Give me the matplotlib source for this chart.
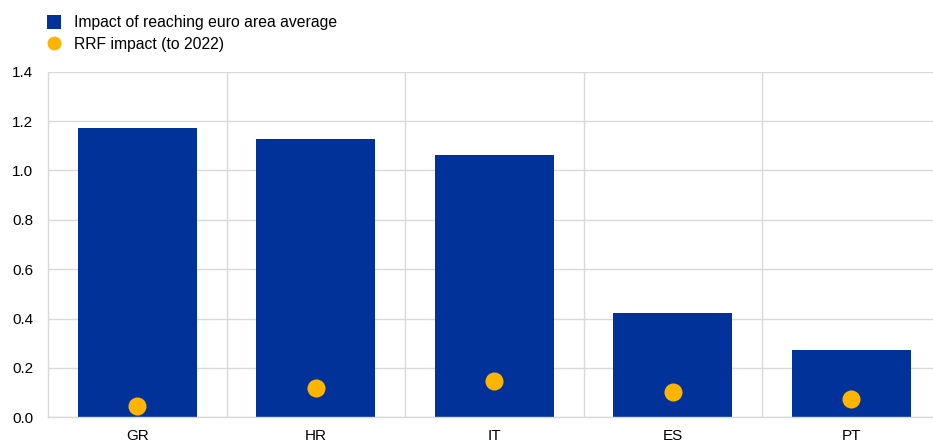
import matplotlib
matplotlib.use("Agg")
import matplotlib.pyplot as plt
from matplotlib.lines import Line2D
import numpy as np

plt.rcParams['font.family'] = ['Liberation Sans', 'DejaVu Sans']

countries = ["GR", "HR", "IT", "ES", "PT"]
euro_area_gap = [1.172, 1.127, 1.061, 0.421, 0.271]
rrf_impact = [0.047, 0.117, 0.146, 0.101, 0.073]
y_ticks = [0.0, 0.2, 0.4, 0.6, 0.8, 1.0, 1.2, 1.4]

BLUE = "#003299"
YELLOW = "#FFB400"
GRID = "#d9d9d9"

fig = plt.figure(figsize=(9.33, 4.43), dpi=100)
ax = fig.add_axes([48 / 933, 25.7 / 443, 892.5 / 933, 345.6 / 443])

x = np.arange(len(countries))
ax.bar(x, euro_area_gap, width=0.667, color=BLUE, zorder=2)
ax.plot(x, rrf_impact, linestyle="none", marker="o", markersize=13,
        color=YELLOW, markeredgewidth=0, zorder=3)

ax.set_xlim(-0.5, len(countries) - 0.5)
ax.set_ylim(0, 1.4)
ax.set_yticks(y_ticks)
ax.set_yticklabels([f"{v:.1f}" for v in y_ticks])
ax.set_xticks(x)
ax.set_xticklabels(countries)
ax.set_xticks(np.arange(len(countries)) + 0.5, minor=True)

ax.set_axisbelow(True)
ax.grid(axis="y", which="major", color=GRID, linewidth=1.0)
ax.grid(axis="x", which="minor", color=GRID, linewidth=1.0)
ax.grid(axis="x", which="major", visible=False)

for side in ("top", "right"):
    ax.spines[side].set_visible(False)
for side in ("left", "bottom"):
    ax.spines[side].set_color(GRID)
    ax.spines[side].set_linewidth(1.0)

ax.tick_params(axis="both", which="both", length=0, labelsize=11, colors="black")
ax.tick_params(axis="y", pad=10.5)
ax.tick_params(axis="x", pad=8.5)

handles = [
    Line2D([], [], linestyle="none", marker="s", markersize=10, color=BLUE, markeredgewidth=0),
    Line2D([], [], linestyle="none", marker="o", markersize=10, color=YELLOW, markeredgewidth=0),
]
labels = ["Impact of reaching euro area average", "RRF impact (to 2022)"]
fig.legend(handles, labels, loc="upper left", bbox_to_anchor=(46 / 933, 1 - 15 / 443),
           frameon=False, fontsize=11.3, handlelength=1.0, handletextpad=0.78,
           labelspacing=0.42, borderpad=0, borderaxespad=0)

fig.savefig("out.png", dpi=100)
